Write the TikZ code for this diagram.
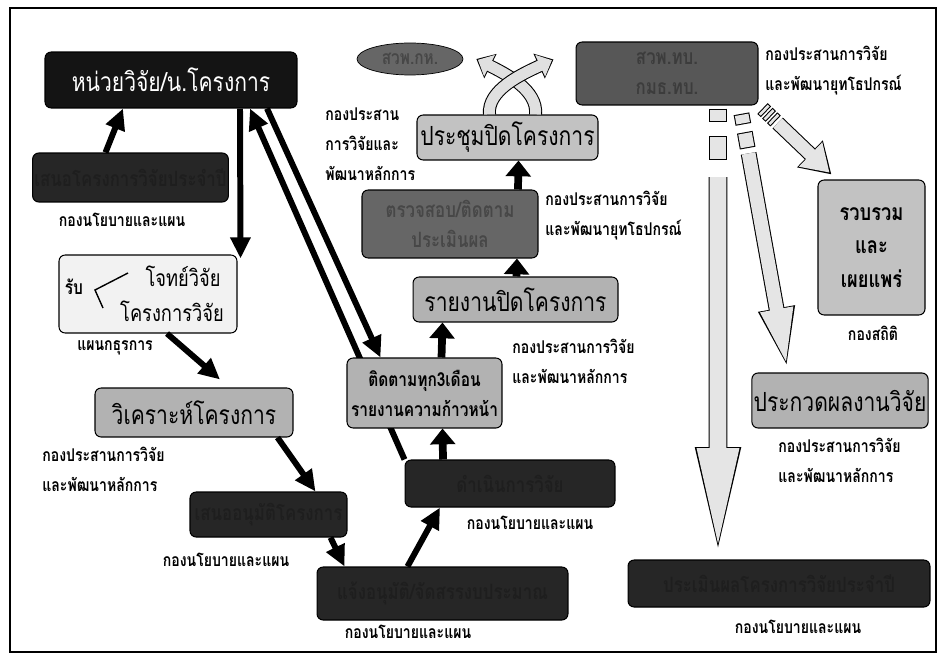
\documentclass[tikz,border=0pt]{standalone}
\usepackage{fontspec}
\newfontfamily\thai[Script=Thai,FakeStretch=0.8]{Loma}
\usetikzlibrary{arrows.meta,calc,shapes.geometric,backgrounds}

\tikzset{
	box/.style={rounded corners=3.5pt, draw=black, line width=0.6pt, align=center, inner sep=1pt},
	blackbox/.style={box, fill=black!85, text opacity=0.2, font=\thai\bfseries\fontsize{12}{15}\selectfont},
	darkbox/.style={box, fill=black!60, text opacity=0.3, font=\thai\bfseries\fontsize{12}{17}\selectfont},
	midbox/.style={box, fill=black!30, font=\thai\fontsize{15}{18}\selectfont},
	lightbox/.style={box, fill=black!5},
	lbl/.style={align=left, inner sep=0pt, font=\thai\bfseries\fontsize{10}{17}\selectfont},
	arr/.style={line width=3.4pt, -{Triangle[length=12pt,width=11pt]}},
	uparr/.style={line width=4.4pt, -{Triangle[length=9pt,width=14pt]}},
	longarr/.style={line width=3.4pt, -{Triangle[length=12pt,width=11pt]}},
	bandarr/.style={preaction={draw=black, line width=7.4pt, shorten >=0pt, -{Triangle[length=9pt,width=15pt]}},
		draw=black!12, line width=6.2pt, shorten >=1pt, -{Triangle[length=7.4pt,width=13.2pt]}},
	hollowseg/.style={preaction={draw=black, line width=#1, shorten >=0pt, shorten <=0pt},
		draw=black!10, line width=#1-1.2pt, shorten >=0.6pt, shorten <=0.6pt},
	hollowarr/.style n args={7}{preaction={draw=black, line width=#1, shorten >=0pt, -{Triangle[length=#3,width=#4]}},
		draw=black!10, line width=#2, shorten >=#5, -{Triangle[length=#6,width=#7]}}
}

\begin{document}
\begin{tikzpicture}[x=0.02cm, y=-0.02cm]
	\useasboundingbox (0,0) rectangle (939,655);
	\draw[line width=0.8pt] (10,8) rectangle (936,652);

	\node (unit) at (171,80) [blackbox, fill=black!92, text=white, text opacity=1, font=\thai\fontsize{15}{18}\selectfont, minimum width=5.04cm, minimum height=1.12cm] {หน่วยวิจัย/น.โครงการ};
	\node (A) at (130.5,177.5) [blackbox, minimum width=3.78cm, minimum height=0.98cm] {เสนอโครงการวิจัยประจำปี};
	\node (R) at (148,294) [lightbox, minimum width=3.56cm, minimum height=1.56cm] {};
		\node (Rr) at (74,287) [font=\thai\bfseries\fontsize{11}{13}\selectfont] {รับ};
		\node (Ra) at (183,276) [font=\thai\fontsize{13}{15}\selectfont] {โจทย์วิจัย};
		\node (Rb) at (172,311) [font=\thai\fontsize{13}{15}\selectfont] {โครงการวิจัย};
	\node (V) at (194,412.5) [midbox, minimum width=3.96cm, minimum height=0.98cm] {วิเคราะห์โครงการ};
	\node (D) at (268.5,514.5) [blackbox, minimum width=3.14cm, minimum height=0.9cm] {เสนออนุมัติโครงการ};
	\node (E) at (442.5,593.5) [blackbox, minimum width=5.02cm, minimum height=1.06cm] {แจ้งอนุมัติ/จัดสรรงบประมาณ};
	\node (F) at (510,483.5) [blackbox, minimum width=4.2cm, minimum height=0.94cm] {ดำเนินการวิจัย};
	\node (G) at (424.5,393) [midbox, font=\thai\bfseries\fontsize{11}{17}\selectfont, minimum width=3.1cm, minimum height=1.4cm] {ติดตามทุก3เดือน\\รายงานความก้าวหน้า};
	\node (H) at (515.5,299.5) [midbox, minimum width=4.1cm, minimum height=0.9cm] {รายงานปิดโครงการ};
	\node (I) at (450,224) [darkbox, minimum width=3.52cm, minimum height=1.36cm] {ตรวจสอบ/ติดตาม\\ประเมินผล};
	\node (J) at (507.5,137.5) [midbox, fill=black!24, minimum width=3.62cm, minimum height=0.9cm] {ประชุมปิดโครงการ};
	\node (ell) at (410,59) [ellipse, draw, fill=black!60, text opacity=0.3, inner sep=0pt, minimum width=2.12cm, minimum height=0.64cm, font=\thai\bfseries\fontsize{11}{13}\selectfont] {สวพ.กห.};
	\node (K) at (667,73.5) [darkbox, fill=black!66, minimum width=3.64cm, minimum height=1.26cm] {สวพ.ทบ.\\กมธ.ทบ.};
	\node (L) at (871.5,247.5) [midbox, fill=black!24, font=\thai\bfseries\fontsize{13}{19}\selectfont, minimum width=2.14cm, minimum height=2.7cm] {รวบรวม\\และ\\เผยแพร่};
	\node (M) at (840,400.5) [midbox, minimum width=3.48cm, minimum height=1.1cm] {ประกวดผลงานวิจัย};
	\node (N) at (779,583.5) [blackbox, minimum width=6.04cm, minimum height=0.94cm] {ประเมินผลโครงการวิจัยประจำปี};

	\node (lA) at (122,220) [lbl] {กองนโยบายและแผน};
	\node (lR) at (115,348) [lbl] {แผนกธุรการ};
	\node (lV) at (42,469) [lbl, anchor=west] {กองประสานการวิจัย\\และพัฒนาหลักการ};
	\node (lD) at (226,560) [lbl] {กองนโยบายและแผน};
	\node (lE) at (408,632) [lbl] {กองนโยบายและแผน};
	\node (lF) at (530,523) [lbl] {กองนโยบายและแผน};
	\node (lG) at (512,361) [lbl, anchor=west] {กองประสานการวิจัย\\และพัฒนาหลักการ};
	\node (lI) at (545,216) [lbl, anchor=west] {กองประสานการวิจัย\\และพัฒนายุทโธปกรณ์};
	\node (lJ) at (325,144) [lbl, anchor=west] {กองประสาน\\การวิจัยและ\\พัฒนาหลักการ};
	\node (lK) at (765,71) [lbl, anchor=west] {กองประสานการวิจัย\\และพัฒนายุทโธปกรณ์};
	\node (lL) at (873,333) [lbl] {กองสถิติ};
	\node (lM) at (778,460) [lbl, anchor=west] {กองประสานการวิจัย\\และพัฒนาหลักการ};
	\node (lN) at (798,627) [lbl] {กองนโยบายและแผน};

	\draw[line width=0.8pt] ([shift={(-20,-21)}]R.center) to ([shift={(-53,-4)}]R.center) to ([shift={(-45,14)}]R.center);

	\draw[arr] ([shift={(-25,0)}]A.north) to ([shift={(-48,0)}]unit.south);
	\draw[arr] ([shift={(69,0)}]unit.south) to ([shift={(3,4)}]R.north east);
	\draw[arr] ([shift={(19,0)}]R.south) to ([shift={(26,-8)}]V.north);
	\draw[arr] ([shift={(-16,0)}]V.south east) to ([shift={(-32,0)}]D.north east);
	\draw[arr] ([shift={(-17,0)}]D.south east) to ([shift={(28,0)}]E.north west);
	\draw[arr] ([shift={(-35,0)}]E.north) to ([shift={(-70,0)}]F.south);
	\draw[uparr] ([shift={(-67,0)}]F.north) to ([shift={(18,0)}]G.south);
	\draw[uparr] ([shift={(17,0)}]G.north) to ([shift={(-73,0)}]H.south);
	\draw[uparr] ([shift={(1,0)}]H.north) to ([shift={(67,0)}]I.south);
	\draw[uparr] ([shift={(68,0)}]I.north) to ([shift={(11,0)}]J.south);
	\draw[longarr] ([shift={(96,0)}]unit.south) to ([shift={(-44,0)}]G.north);
	\begin{scope}[on background layer]
		\draw[longarr] (F.north west) to ([shift={(79,0)}]unit.south);
	\end{scope}

	\draw[bandarr] ([shift={(28,0)}]J.north) .. controls (538,90) and (506,74) .. ([shift={(13,0)}]ell.east);
	\draw[bandarr] ([shift={(-18,0)}]J.north) .. controls (487,90) and (522,74) .. ([shift={(-22,-14)}]K.west);

	\coordinate (v0) at ([shift={(51,0)}]K.south);
	\coordinate (v1) at ([shift={(-61,0)}]N.north);
	\draw[hollowseg=10.8pt] ($(v0)!0.007!(v1)$) to ($(v0)!0.037!(v1)$);
	\draw[hollowseg=10.8pt] ($(v0)!0.068!(v1)$) to ($(v0)!0.121!(v1)$);
	\draw[hollowarr={10.8pt}{9.6pt}{64pt}{22.8pt}{3.4pt}{60pt}{21.2pt}] ($(v0)!0.158!(v1)$) to (v1);

	\coordinate (m0) at ([shift={(-18,3)}]K.south east);
	\coordinate (m1) at ([shift={(-52,0)}]M.north);
	\draw[hollowseg=9pt] ($(m0)!0.02!(m1)$) to ($(m0)!0.06!(m1)$);
	\draw[hollowseg=9pt] ($(m0)!0.09!(m1)$) to ($(m0)!0.15!(m1)$);
	\draw[hollowarr={9pt}{7.8pt}{37pt}{18pt}{2.5pt}{34pt}{16.4pt}] ($(m0)!0.17!(m1)$) to (m1);

	\coordinate (s0) at ([shift={(4,3)}]K.south east);
	\coordinate (s1) at ([shift={(14,-5)}]L.north west);
	\draw[hollowseg=8.5pt] (s0) to ($(s0)!0.05!(s1)$);
	\draw[hollowseg=8.5pt] ($(s0)!0.07!(s1)$) to ($(s0)!0.12!(s1)$);
	\draw[hollowseg=8.5pt] ($(s0)!0.14!(s1)$) to ($(s0)!0.19!(s1)$);
	\draw[hollowarr={8.5pt}{7.3pt}{17pt}{20pt}{1.5pt}{15pt}{18.2pt}] ($(s0)!0.22!(s1)$) to (s1);
\end{tikzpicture}
\end{document}
